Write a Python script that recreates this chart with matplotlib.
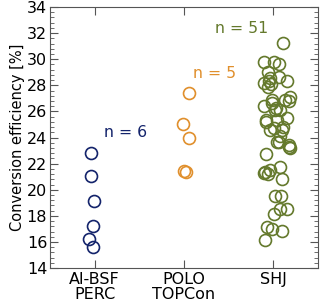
import matplotlib
matplotlib.use("Agg")
import matplotlib.pyplot as plt
from matplotlib.ticker import MultipleLocator, AutoMinorLocator

# categories and colours
categories = ["Al-BSF\nPERC", "POLO\nTOPCon", "SHJ"]
colors = ["#13236b", "#e08f2c", "#64792c"]

# efficiency values [%] with horizontal jitter (in category units)
perc_eff = [22.79, 21.05, 19.11, 17.22, 16.22, 15.59]
perc_jit = [-0.04, -0.04, -0.01, -0.02, -0.06, -0.02]

topcon_eff = [27.43, 25.01, 23.99, 21.43, 21.38]
topcon_jit = [0.06, -0.01, 0.06, 0.00, 0.02]

shj_eff = [31.22, 29.76, 29.81, 29.61, 29.04, 28.66, 28.35, 28.15, 28.07, 27.85,
           26.87, 27.13, 26.80, 26.41, 26.11, 26.11, 25.47, 25.21, 24.70, 24.57,
           24.11, 23.68, 23.43, 23.17, 22.74, 21.38, 21.20, 21.50, 21.71, 20.80,
           19.54, 19.54, 18.52, 18.52, 18.11, 17.17, 17.00, 16.84, 16.15, 28.35,
           26.87, 26.62, 26.30, 25.34, 25.34, 24.57, 23.68, 23.30, 21.30, 28.60,
           24.80]
shj_px = [282.7, 264, 273.3, 279, 267.7, 279, 286.7, 264, 271, 267.3,
          271.7, 289.3, 288.3, 264, 274.3, 279.3, 286.7, 266, 273.3, 281.7,
          280, 276.7, 288.3, 290, 266, 265, 268, 270, 279.3, 281.7,
          275, 280.7, 286.7, 280, 273.3, 266.7, 271.7, 281.7, 265, 269,
          285, 271.7, 276, 265.7, 276.7, 270, 278.3, 288.3, 264, 270,
          283]
shj_jit = [(p - 273) / 89.5 for p in shj_px]

counts = ["n = 6", "n = 5", "n = 51"]
label_pos = [(0.35, 24.35), (1.34, 28.87), (1.65, 32.37)]

fig = plt.figure(figsize=(3.2, 3.06), dpi=100)
ax = fig.add_axes([0.156, 0.124, 0.838, 0.853])

groups = [(perc_eff, perc_jit), (topcon_eff, topcon_jit), (shj_eff, shj_jit)]
for i, (eff, jit) in enumerate(groups):
    xs = [i + j for j in jit]
    ax.plot(xs, eff, "o", ms=8.6, mfc="none", mec=colors[i], mew=1.2,
            linestyle="none")
    ax.text(label_pos[i][0], label_pos[i][1], counts[i], color=colors[i],
            fontsize=11.3, ha="center", va="center")

ax.set_xlim(-0.5, 2.5)
ax.set_ylim(14, 34)
ax.set_xticks([0, 1, 2])
ax.set_xticklabels(categories, fontsize=11.5, linespacing=0.95)
ax.yaxis.set_major_locator(MultipleLocator(2))
ax.yaxis.set_minor_locator(AutoMinorLocator(5))
ax.tick_params(axis="y", labelsize=11.5, pad=2)
ax.tick_params(axis="x", pad=3)
ax.set_ylabel("Conversion efficiency [%]", fontsize=10.5, labelpad=1)

for s in ax.spines.values():
    s.set_color("#555555")
ax.tick_params(which="both", direction="in", top=True, right=True,
               color="#555555")
ax.tick_params(which="major", length=5.5)
ax.tick_params(which="minor", length=3.2)

fig.savefig("out.png", dpi=100)
